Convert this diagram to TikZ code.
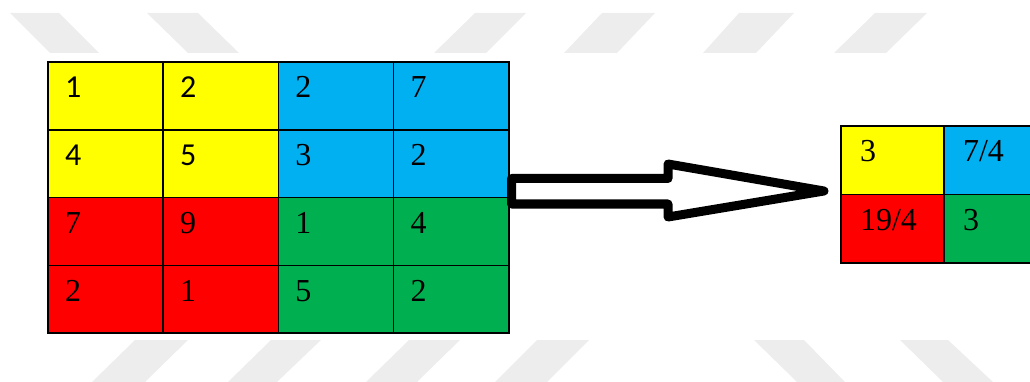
\documentclass[tikz,border=0pt]{standalone}
\usepackage{fontspec}
\setmainfont{Liberation Serif}
\newfontfamily\sansnum{Carlito}
\usetikzlibrary{positioning}
\definecolor{cyellow}{HTML}{FFFF00}
\definecolor{cblue}{HTML}{00B0F0}
\definecolor{cred}{HTML}{FF0000}
\definecolor{cgreen}{HTML}{00B050}
\definecolor{wmark}{HTML}{EDEDED}
\tikzstyle{cell} = [rectangle, draw=black, line width=1.5pt, outer sep=0pt, inner xsep=17pt, inner ysep=0pt, text width=81.2pt, align=left, text height=36pt, text depth=31.8pt, minimum width=115.2pt, minimum height=67.8pt, font=\fontsize{32}{38}\selectfont]
\tikzstyle{ysans} = [font=\sansnum\fontsize{32}{38}\selectfont]
\tikzstyle{small} = [cell, inner xsep=19pt, text width=65pt, text depth=32.5pt, minimum width=103pt, minimum height=68.5pt]
\tikzstyle{stripe} = [fill=wmark, draw=none]
\tikzstyle{arrow} = [draw=black, fill=white, line width=9pt, line join=round]

\begin{document}
\begin{tikzpicture}[x=1pt, y=-1pt]
	\useasboundingbox (0,0) rectangle (1030,382);
	% watermark
	\foreach \a/\b/\c/\d in {10/59/99/50, 147/198/239/188, 475/526/486/434, 602/655/617/564, 739/794/756/703, 875/927/886/834}
		\fill [stripe] (\a,13) -- (\b,13) -- (\c,53) -- (\d,53) -- cycle;
	\foreach \a/\b/\c/\d in {135/188/145/92, 271/321/277/228, 409/460/417/366, 537/589/547/495, 754/804/845/797, 900/948/993/943}
		\fill [stripe] (\a,340) -- (\b,340) -- (\c,382) -- (\d,382) -- cycle;
	
	% input
	\node (m11) [cell, ysans, fill=cyellow, anchor=north west] at (48,62) {1};
	\node (m12) [cell, ysans, fill=cyellow, right=0pt of m11] {2};
	\node (m13) [cell, fill=cblue, right=0pt of m12] {2};
	\node (m14) [cell, fill=cblue, right=0pt of m13] {7};
	\node (m21) [cell, ysans, fill=cyellow, below=0pt of m11] {4};
	\node (m22) [cell, ysans, fill=cyellow, right=0pt of m21] {5};
	\node (m23) [cell, fill=cblue, right=0pt of m22] {3};
	\node (m24) [cell, fill=cblue, right=0pt of m23] {2};
	\node (m31) [cell, fill=cred, below=0pt of m21] {7};
	\node (m32) [cell, fill=cred, right=0pt of m31] {9};
	\node (m33) [cell, fill=cgreen, right=0pt of m32] {1};
	\node (m34) [cell, fill=cgreen, right=0pt of m33] {4};
	\node (m41) [cell, fill=cred, below=0pt of m31] {2};
	\node (m42) [cell, fill=cred, right=0pt of m41] {1};
	\node (m43) [cell, fill=cgreen, right=0pt of m42] {5};
	\node (m44) [cell, fill=cgreen, right=0pt of m43] {2};
	
	% pooled
	\node (p11) [small, fill=cyellow, anchor=north west] at (841,126) {3};
	\node (p12) [small, fill=cblue, right=0pt of p11] {7/4};
	\node (p21) [small, fill=cred, below=0pt of p11] {19/4};
	\node (p22) [small, fill=cgreen, right=0pt of p21] {3};
	
	\draw [arrow] (511.5,178.5) -- (668,178.5) -- (668,164) -- (824,191) -- (668,217) -- (668,204) -- (511.5,204) -- cycle;
\end{tikzpicture}
\end{document}
